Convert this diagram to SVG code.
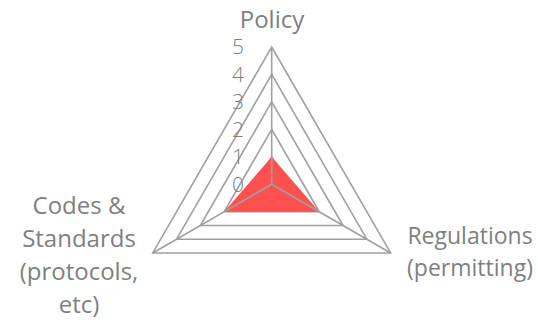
<svg xmlns="http://www.w3.org/2000/svg" width="538" height="324" viewBox="0 0 538 324">
<style>
.grid{fill:none;stroke:#a0a0a0;stroke-width:1.6;stroke-linejoin:miter}
.spoke{stroke:#a0a0a0;stroke-width:1.6}
.lbl{font-family:"Open Sans","Liberation Sans",sans-serif;font-size:24px;fill:#7f7f7f;text-anchor:middle}
.lbl2{font-size:23px}
.tick{font-family:"Open Sans","Liberation Sans",sans-serif;font-size:21px;font-weight:300;fill:#808080;text-anchor:end}
</style>
<rect width="538" height="324" fill="#ffffff"/>
<g id="grid">
<polygon class="grid" points="271.7,156.84 295.48,198.03 247.92,198.03"/>
<polygon class="grid" points="271.7,129.38 319.26,211.76 224.14,211.76"/>
<polygon class="grid" points="271.7,101.92 343.04,225.49 200.36,225.49"/>
<polygon class="grid" points="271.7,74.46 366.82,239.22 176.58,239.22"/>
<polygon class="grid" points="271.7,47 390.61,252.95 152.79,252.95"/>
</g>
<g id="series">
<polygon points="271.7,156.84 319.26,211.76 224.14,211.76" fill="#ff5050"/>
</g>
<g id="spokes">
<line class="spoke" x1="271.7" y1="184.3" x2="271.7" y2="47"/>
<line class="spoke" x1="271.7" y1="184.3" x2="390.61" y2="252.95"/>
<line class="spoke" x1="271.7" y1="184.3" x2="152.79" y2="252.95"/>
</g>
<g id="ticks">
<text class="tick" x="244" y="191.7">0</text>
<text class="tick" x="244" y="164.2">1</text>
<text class="tick" x="244" y="136.8">2</text>
<text class="tick" x="244" y="109.3">3</text>
<text class="tick" x="244" y="81.8">4</text>
<text class="tick" x="244" y="54.4">5</text>
</g>
<g id="policy">
<text class="lbl" x="272" y="28">Policy</text>
</g>
<g id="regulations">
<text class="lbl lbl2" x="470" y="244">Regulations</text>
<text class="lbl lbl2" x="470" y="275.5">(permitting)</text>
</g>
<g id="codes">
<text class="lbl" x="79" y="214">Codes &amp;</text>
<text class="lbl" x="79" y="247">Standards</text>
<text class="lbl" x="79" y="280">(protocols,</text>
<text class="lbl" x="79" y="313">etc)</text>
</g>
</svg>
